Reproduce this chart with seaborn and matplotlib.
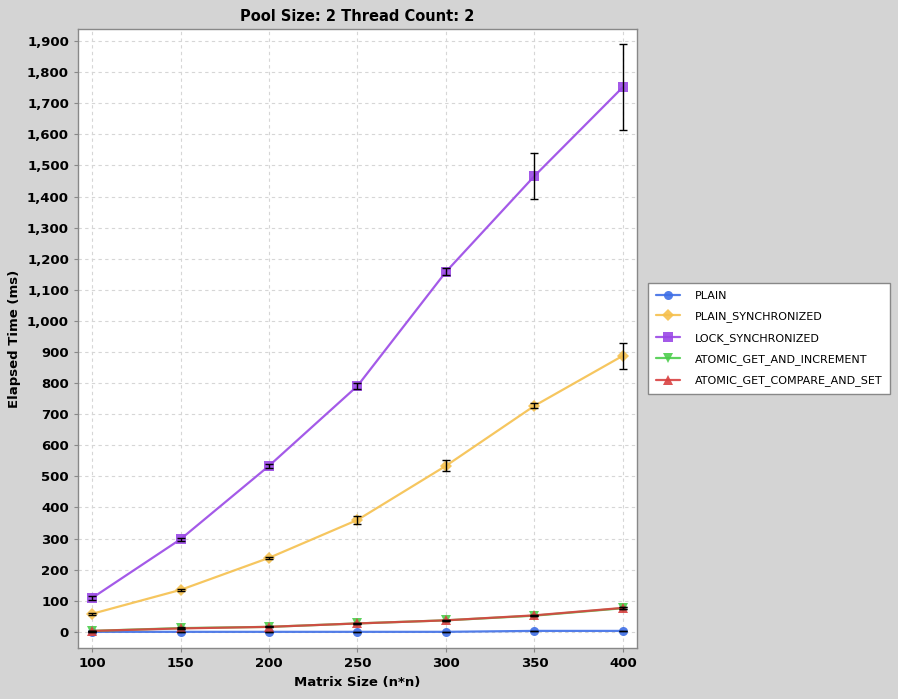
import numpy as np
import pandas as pd
import seaborn as sns
import matplotlib.pyplot as plt
from matplotlib.ticker import FuncFormatter

sizes = [100, 150, 200, 250, 300, 350, 400]
plain = [0, 0, 0, 0, 0, 3, 3]
plain_sync = [58, 135, 238, 360, 534, 727, 888]
lock_sync = [109, 298, 534, 791, 1158, 1466, 1752]
atomic_inc = [3, 12, 16, 27, 37, 52, 76]
atomic_cas = [3, 11, 16, 27, 37, 53, 77]

plain_err = [1, 1, 1, 1, 1, 1, 1]
plain_sync_err = [3, 3, 3, 12, 18, 8, 42]
lock_sync_err = [6, 5, 7, 9, 11, 74, 139]
atomic_inc_err = [1, 2, 2, 2, 2, 2, 3]
atomic_cas_err = [1, 2, 2, 2, 2, 2, 3]

names = ["PLAIN", "PLAIN_SYNCHRONIZED", "LOCK_SYNCHRONIZED",
         "ATOMIC_GET_AND_INCREMENT", "ATOMIC_GET_COMPARE_AND_SET"]
series = [plain, plain_sync, lock_sync, atomic_inc, atomic_cas]
errors = [plain_err, plain_sync_err, lock_sync_err, atomic_inc_err, atomic_cas_err]
colors = ["#3f6fe6", "#f5c04e", "#9a48e6", "#4ccd4c", "#d94141"]
markers = ["o", "D", "s", "v", "^"]

rows = []
for n, vals in zip(names, series):
    for s, v in zip(sizes, vals):
        rows.append({"size": s, "time": v, "series": n})
df = pd.DataFrame(rows)

sns.set_style("white")
plt.rcParams["font.family"] = ["DejaVu Sans"]
plt.rcParams["text.color"] = "black"
plt.rcParams["axes.labelcolor"] = "black"
plt.rcParams["xtick.color"] = "black"
plt.rcParams["ytick.color"] = "black"

fig = plt.figure(figsize=(8.98, 6.99), dpi=100, facecolor="#d4d4d4")
ax = fig.add_axes([78 / 898, 1 - 648 / 699, 559 / 898, 619 / 699])
ax.set_facecolor("white")

sns.lineplot(data=df, x="size", y="time", hue="series", style="series",
             palette=dict(zip(names, colors)), markers=dict(zip(names, markers)),
             dashes=False, markersize=6.5, markeredgewidth=0, linewidth=1.6,
             alpha=0.9, ax=ax, errorbar=None)

for vals, err in zip(series, errors):
    ax.errorbar(sizes, vals, yerr=err, fmt="none", ecolor="black",
                elinewidth=1, capsize=3, capthick=1, zorder=5)

ax.set_xlim(92, 408)
ax.set_ylim(-52, 1939)
ax.set_xticks(sizes)
ax.set_yticks(range(0, 2000, 100))
ax.yaxis.set_major_formatter(FuncFormatter(lambda v, p: f"{int(v):,}"))
ax.grid(True, color="#d6d6d6", linestyle=(0, (3, 3)), linewidth=0.8)
ax.tick_params(axis="both", labelsize=9.5, length=3, direction="out",
               left=True, bottom=True, color="#888888", labelcolor="black")
for lab in ax.get_xticklabels() + ax.get_yticklabels():
    lab.set_fontweight("bold")
for sp in ax.spines.values():
    sp.set_color("#888888")
    sp.set_linewidth(1)

ax.set_title("Pool Size: 2 Thread Count: 2", fontsize=10.5, fontweight="bold",
             pad=6, color="black")
ax.set_xlabel("Matrix Size (n*n)", fontsize=9.5, fontweight="bold", color="black")
ax.set_ylabel("Elapsed Time (ms)", fontsize=9.5, fontweight="bold", color="black")

leg = ax.legend(loc="center left", bbox_to_anchor=((648 - 78) / 559, 0.5),
                borderaxespad=0, frameon=True, fancybox=False, fontsize=8,
                handlelength=2.2, handletextpad=1.3, labelspacing=0.95,
                borderpad=0.7, edgecolor="#888888", facecolor="white",
                framealpha=1, labelcolor="black")
leg.get_frame().set_linewidth(1)

fig.savefig("out.png", dpi=100, facecolor=fig.get_facecolor())
